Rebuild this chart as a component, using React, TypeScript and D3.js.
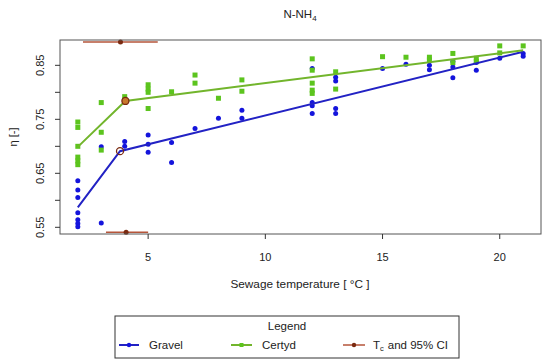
import React from "react";
import * as d3 from "d3";

const gravelT = [2,2,2,2,2,2,2, 3,3, 4,4, 5,5,5, 6,6, 7, 8, 9,9, 12,12,12,12, 13,13,13,13, 15, 16, 17,17, 18,18,18, 19,19, 20, 21,21];
const gravelEta = [0.636,0.619,0.605,0.577,0.564,0.557,0.551, 0.699,0.558, 0.709,0.700, 0.721,0.704,0.689, 0.707,0.670, 0.733, 0.752, 0.767,0.752, 0.844,0.781,0.775,0.761, 0.828,0.821,0.770,0.761, 0.844, 0.852, 0.850,0.842, 0.857,0.847,0.827, 0.855,0.841, 0.863, 0.872,0.867];

const certydT = [2,2,2,2,2,2, 3,3,3, 4,4, 5,5,5,5, 6, 7,7, 8, 9,9, 12,12,12,12,12, 13,13, 15, 16, 17,17, 18,18, 19,19, 20,20, 21];
const certydEta = [0.745,0.735,0.700,0.680,0.673,0.666, 0.781,0.726,0.693, 0.792,0.786, 0.814,0.806,0.800,0.770, 0.801, 0.832,0.817, 0.789, 0.823,0.802, 0.862,0.841,0.817,0.804,0.798, 0.838,0.806, 0.866, 0.865, 0.865,0.860, 0.872,0.855, 0.863,0.857, 0.886,0.873, 0.886];

const gravelFitT = [2, 3.8, 21];
const gravelFitEta = [0.587, 0.691, 0.875];
const certydFitT = [2, 4.03, 21];
const certydFitEta = [0.699, 0.784, 0.878];

const tcValue = [3.82, 4.06];
const tcLow = [2.22, 3.2];
const tcHigh = [5.41, 5.0];
const tcEta = [0.893, 0.541];

const xTicks = [5, 10, 15, 20];
const yTicks = [0.55, 0.6, 0.65, 0.7, 0.75, 0.8, 0.85];
const yTickLabels = ["0.55", "", "0.65", "", "0.75", "", "0.85"];

const legendLabels = ["Gravel", "Certyd"];

const BLUE = "#1414dc";
const BLUE_LINE = "#2222c4";
const GREEN = "#5cc41e";
const GREEN_LINE = "#72b52c";
const RED_LINE = "#b5553a";
const RED_PT = "#7a2a10";
const FONT = "'Liberation Sans', Arial, sans-serif";

export default function App() {
  const left = 60, right = 541, top = 40, bottom = 234;
  const x = d3.scaleLinear().domain([1.24, 21.76]).range([left, right]);
  const y = d3.scaleLinear().domain([0.5376, 0.8969]).range([bottom, top]);
  const line = d3.line<[number, number]>().x(d => x(d[0])).y(d => y(d[1]));
  const gFit = gravelFitT.map((t, i) => [t, gravelFitEta[i]] as [number, number]);
  const cFit = certydFitT.map((t, i) => [t, certydFitEta[i]] as [number, number]);

  return (
    <svg width={550} height={360} style={{ position: "absolute", left: 0, top: 0, background: "#fff" }} fontFamily={FONT}>
      <rect width={550} height={360} fill="#fff" />
      <text x={300} y={18} fontSize={11.5} textAnchor="middle" fill="#222">
        N-NH<tspan fontSize={8} dy={3}>4</tspan>
      </text>

      {gravelT.map((t, i) => (
        <circle key={"g" + i} cx={x(t)} cy={y(gravelEta[i])} r={2.5} fill={BLUE} />
      ))}
      {certydT.map((t, i) => (
        <rect key={"c" + i} x={x(t) - 2.5} y={y(certydEta[i]) - 2.5} width={5} height={5} fill={GREEN} />
      ))}
      <path d={line(gFit) || ""} fill="none" stroke={BLUE_LINE} strokeWidth={2} />
      <path d={line(cFit) || ""} fill="none" stroke={GREEN_LINE} strokeWidth={2} />
      <circle cx={x(gravelFitT[1])} cy={y(gravelFitEta[1])} r={3.5} fill="none" stroke={RED_PT} strokeWidth={1.3} />
      <circle cx={x(certydFitT[1])} cy={y(certydFitEta[1])} r={3.5} fill="#c8782c" stroke={RED_PT} strokeWidth={1.3} />

      {tcValue.map((t, i) => (
        <g key={"tc" + i}>
          <line x1={x(tcLow[i])} x2={x(tcHigh[i])} y1={y(tcEta[i])} y2={y(tcEta[i])} stroke={RED_LINE} strokeWidth={1.5} />
          <circle cx={x(t)} cy={y(tcEta[i])} r={2.5} fill={RED_PT} />
        </g>
      ))}

      <rect x={left} y={top} width={right - left} height={bottom - top} fill="none" stroke="#555" strokeWidth={1} />

      {xTicks.map(t => (
        <g key={"xt" + t}>
          <line x1={x(t)} x2={x(t)} y1={bottom} y2={bottom + 5} stroke="#333" />
          <text x={x(t)} y={261} fontSize={11} textAnchor="middle" fill="#222">{t}</text>
        </g>
      ))}
      <text x={300} y={288} fontSize={11.8} textAnchor="middle" fill="#222">Sewage temperature [ °C ]</text>

      {yTicks.map((v, i) => (
        <g key={"yt" + i}>
          <line x1={left - 5} x2={left} y1={y(v)} y2={y(v)} stroke="#333" />
          {yTickLabels[i] && (
            <text transform={`translate(44,${y(v)}) rotate(-90)`} fontSize={11} textAnchor="middle" fill="#222">{yTickLabels[i]}</text>
          )}
        </g>
      ))}
      <text transform={`translate(17,${(top + bottom) / 2}) rotate(-90)`} fontSize={11} textAnchor="middle" fill="#222">η [-]</text>

      <rect x={115} y={316} width={344} height={42} fill="#fff" stroke="#333" strokeWidth={1} />
      <text x={287} y={330} fontSize={11.5} textAnchor="middle" fill="#222">Legend</text>
      <line x1={119} x2={139} y1={345} y2={345} stroke={BLUE_LINE} strokeWidth={2} />
      <circle cx={129} cy={345} r={2.2} fill={BLUE} />
      <text x={149} y={349} fontSize={11.5} fill="#222">{legendLabels[0]}</text>
      <line x1={231} x2={252} y1={345} y2={345} stroke={GREEN_LINE} strokeWidth={2} />
      <rect x={239.5} y={343} width={4} height={4} fill={GREEN} />
      <text x={262} y={349} fontSize={11.5} fill="#222">{legendLabels[1]}</text>
      <line x1={343} x2={365} y1={345} y2={345} stroke={RED_LINE} strokeWidth={1.5} />
      <circle cx={354} cy={345} r={2.2} fill={RED_PT} />
      <text x={373} y={349} fontSize={11.5} fill="#222" xmlSpace="preserve">T<tspan fontSize={7.5} dy={2}>c</tspan><tspan dy={-2} dx={4}>and 95% CI</tspan></text>
    </svg>
  );
}
